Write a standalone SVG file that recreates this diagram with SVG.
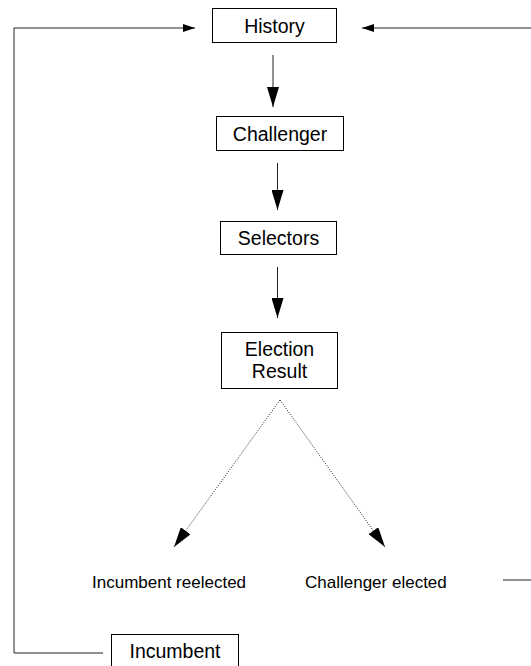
<svg xmlns="http://www.w3.org/2000/svg" width="531" height="666" viewBox="0 0 531 666">
<style>
.box{fill:#fff;stroke:#000;stroke-width:1}
.t{font-family:"Liberation Sans",Arial,sans-serif;font-size:19.5px;fill:#000;text-anchor:middle}
.s{font-family:"Liberation Sans",Arial,sans-serif;font-size:17px;fill:#000}
.ln{fill:none;stroke:#222;stroke-width:1}
.dot{fill:none;stroke:#222;stroke-width:1;stroke-dasharray:1 1.5}
</style>
<defs>
<marker id="big" viewBox="0 0 20 12" refX="20" refY="6" markerWidth="20" markerHeight="12" markerUnits="userSpaceOnUse" orient="auto"><path d="M0,0 L20,6 L0,12 Z" fill="#000"/></marker>
<marker id="small" viewBox="0 0 12 8" refX="12" refY="4" markerWidth="12" markerHeight="8" markerUnits="userSpaceOnUse" orient="auto"><path d="M0,0 L12,4 L0,8 Z" fill="#000"/></marker>
</defs>
<g id="connectors">
<path class="ln" d="M14,653 L14,28 L195,28" marker-end="url(#small)"/>
<path class="ln" d="M103,653 L14,653"/>
<path class="ln" d="M531,28 L362,28" marker-end="url(#small)"/>
<path class="ln" d="M273,55 L273,107" marker-end="url(#big)"/>
<path class="ln" d="M277.5,163 L277.5,210" marker-end="url(#big)"/>
<path class="ln" d="M277.5,267 L277.5,318" marker-end="url(#big)"/>
<path class="dot" d="M280,400 L174,547" marker-end="url(#big)"/>
<path class="dot" d="M280,400 L385,547" marker-end="url(#big)"/>
<path class="ln" d="M503,580 L531,580"/>
</g>
<g id="history"><rect class="box" x="212.5" y="8.5" width="124" height="34"/><text class="t" x="274.5" y="33">History</text></g>
<g id="challenger"><rect class="box" x="216.5" y="116.5" width="127" height="34"/><text class="t" x="280" y="140.5">Challenger</text></g>
<g id="selectors"><rect class="box" x="220.5" y="221.5" width="116" height="33"/><text class="t" x="278.5" y="245">Selectors</text></g>
<g id="election"><rect class="box" x="221.5" y="332.5" width="116" height="56"/><text class="t" x="279.5" y="356">Election</text><text class="t" x="279.5" y="378">Result</text></g>
<g id="incumbent-reelected"><text class="s" x="92" y="588">Incumbent reelected</text></g>
<g id="challenger-elected"><text class="s" x="305" y="588">Challenger elected</text></g>
<g id="incumbent"><rect class="box" x="111.5" y="634.5" width="127" height="40"/><text class="t" x="175" y="658">Incumbent</text></g>
</svg>
